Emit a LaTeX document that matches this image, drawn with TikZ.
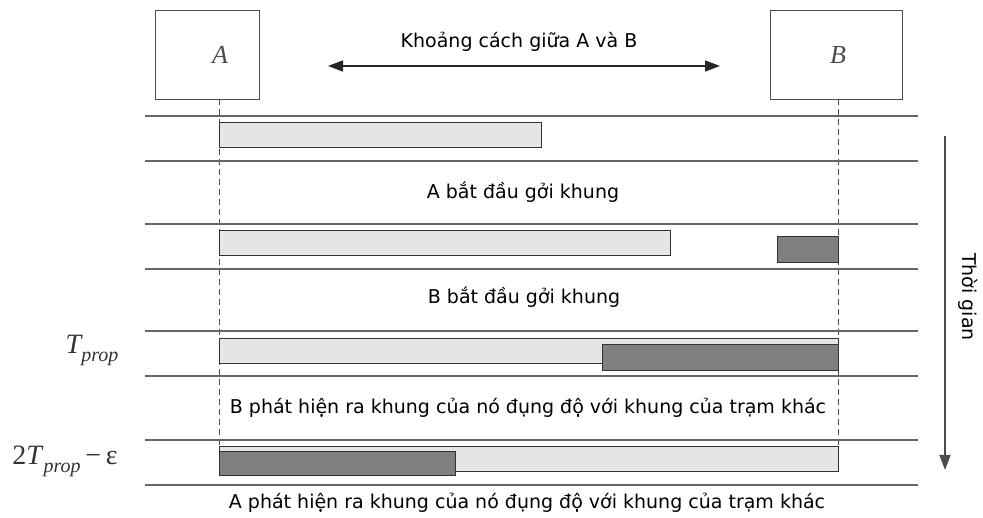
\documentclass[tikz,border=0pt]{standalone}
\usepackage{fontspec}
\setmainfont{DejaVu Sans}
\newfontfamily\timesfont{Liberation Serif}
\usetikzlibrary{positioning,arrows.meta}

\tikzset{
  station/.style={draw=black!70,line width=0.9pt,minimum height=89pt,inner sep=0pt},
  stationname/.style={font=\timesfont\itshape\fontsize{26}{26}\selectfont,text=black!70},
  timelabel/.style={font=\timesfont\fontsize{28}{28}\selectfont,text=black!80},
  caption/.style={font=\fontsize{19}{19}\selectfont,inner sep=0pt},
  rowline/.style={draw=black!60,line width=1.5pt},
  lifeline/.style={black!70,line width=1pt,dash pattern=on 6pt off 4pt},
  ownframe/.style={draw=black!80,fill=black!10,line width=1pt},
  otherframe/.style={draw=black!80,fill=black!50,line width=1pt},
}

\begin{document}
\begin{tikzpicture}[x=1pt,y=-1pt]
\useasboundingbox (0,0) rectangle (983,518);
% stations
\node[station,minimum width=104pt] (boxA) at (207,54.5) {};
\node[station,minimum width=132pt] (boxB) at (836,54.5) {};
\node[stationname] (nameA) at (220,55) {A};
\node[stationname] (nameB) at (838,55) {B};
\coordinate (endA) at (219,447);
\coordinate (endB) at (838,447);
\draw[lifeline] (boxA.south -| endA) -- (endA);
\draw[lifeline] (boxB.south -| endB) -- (endB);
% khoang cach
\node[caption] (dist) at (519,42) {Khoảng cách giữa A và B};
\coordinate (distL) at (328,66);
\coordinate (distR) at (720,66);
\draw[line width=1.5pt,black!85,{Triangle[length=15pt,width=11pt]}-{Triangle[length=15pt,width=11pt]}] (distL) -- (distR);
% rows
\foreach \y in {116,161,224,269,331,376,440,485}
  \draw[rowline] (145,\y) -- (918,\y);
% frames
\draw[ownframe] (219,123) rectangle (541,148);
\node[caption] (startA) at (523,192) {A bắt đầu gởi khung};
\draw[ownframe] (219,231) rectangle (670,256);
\draw[otherframe] (777,237) rectangle (838,263);
\node[caption] (startB) at (524,297) {B bắt đầu gởi khung};
\draw[ownframe] (219,339) rectangle (838,364);
\draw[otherframe] (602,345) rectangle (838,371);
\node[timelabel] (tprop) at (92,350) {\itshape T\raisebox{-8pt}{\fontsize{20}{20}\selectfont prop}};
\node[caption] (detectB) at (528,408) {B phát hiện ra khung của nó đụng độ với khung của trạm khác};
\draw[ownframe] (219,447) rectangle (838,472);
\draw[otherframe] (219,452) rectangle (455,476);
\node[timelabel] (twotprop) at (65,461) {2\textit{T}\raisebox{-8pt}{\fontsize{20}{20}\selectfont\itshape prop}\,−\,ε};
\node[caption] (detectA) at (527,503) {A phát hiện ra khung của nó đụng độ với khung của trạm khác};
% thoi gian
\coordinate (tstart) at (945,136);
\coordinate (tend) at (945,470);
\draw[line width=1.5pt,black!70,-{Triangle[length=15pt,width=11pt]}] (tstart) -- (tend);
\node[caption,rotate=-90] (time) at (968,297) {Thời gian};
\end{tikzpicture}
\end{document}
